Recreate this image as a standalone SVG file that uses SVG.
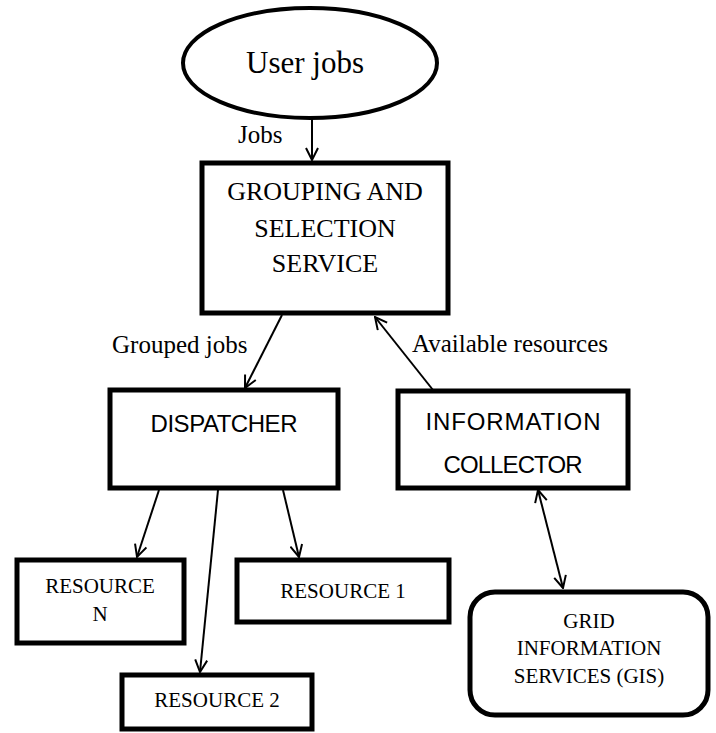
<svg xmlns="http://www.w3.org/2000/svg" width="716" height="733" viewBox="0 0 716 733">
<defs>
<style>
.box{fill:#fff;stroke:#000;stroke-width:5}
.ser{font-family:"Liberation Serif","Times New Roman",serif;fill:#000;text-anchor:middle}
.sans{font-family:"Liberation Sans",Arial,sans-serif;fill:#000;text-anchor:middle}
.lbl{font-family:"Liberation Serif","Times New Roman",serif;fill:#000;font-size:25px}
.conn{fill:none;stroke:#000;stroke-width:2}
</style>
<marker id="ah" viewBox="0 0 14 14" refX="13" refY="7" markerWidth="14" markerHeight="14" markerUnits="userSpaceOnUse" orient="auto-start-reverse">
<path d="M1,1 L13,7 L1,13" fill="none" stroke="#000" stroke-width="2"/>
</marker>
</defs>
<rect width="716" height="733" fill="#fff"/>
<g id="connectors">
<line class="conn" x1="312" y1="118" x2="312" y2="160" marker-end="url(#ah)"/>
<line class="conn" x1="282" y1="315" x2="245" y2="388" marker-end="url(#ah)"/>
<line class="conn" x1="433" y1="390" x2="375" y2="317" marker-end="url(#ah)"/>
<line class="conn" x1="538" y1="490" x2="563" y2="588" marker-start="url(#ah)" marker-end="url(#ah)"/>
<line class="conn" x1="159" y1="490" x2="137" y2="557" marker-end="url(#ah)"/>
<line class="conn" x1="218" y1="490" x2="200" y2="672" marker-end="url(#ah)"/>
<line class="conn" x1="283" y1="490" x2="299" y2="557" marker-end="url(#ah)"/>
<text class="lbl" x="238" y="143">Jobs</text>
<text class="lbl" x="112" y="353" font-size="26">Grouped jobs</text>
<text class="lbl" x="412" y="352" font-size="26">Available resources</text>
</g>
<g id="user-jobs">
<ellipse cx="310" cy="63" rx="127" ry="55" fill="#fff" stroke="#000" stroke-width="4"/>
<text class="ser" x="305" y="73" font-size="31">User jobs</text>
</g>
<g id="grouping">
<rect class="box" x="202" y="163" width="246" height="150"/>
<text class="ser" x="325" y="200" font-size="26">GROUPING AND</text>
<text class="ser" x="325" y="237" font-size="26">SELECTION</text>
<text class="ser" x="325" y="272" font-size="26">SERVICE</text>
</g>
<g id="dispatcher">
<rect class="box" x="110" y="390" width="228" height="98"/>
<text class="sans" x="224" y="432" font-size="24" textLength="147">DISPATCHER</text>
</g>
<g id="info-collector">
<rect class="box" x="398" y="391" width="230" height="97"/>
<text class="sans" x="513" y="430" font-size="24" textLength="175">INFORMATION</text>
<text class="sans" x="513" y="473" font-size="24" textLength="139">COLLECTOR</text>
</g>
<g id="resource-n">
<rect class="box" x="17" y="560" width="167" height="83"/>
<text class="ser" x="100" y="593" font-size="21">RESOURCE</text>
<text class="ser" x="100" y="621" font-size="21">N</text>
</g>
<g id="resource-1">
<rect class="box" x="237" y="560" width="212" height="62"/>
<text class="ser" x="343" y="598" font-size="21">RESOURCE 1</text>
</g>
<g id="resource-2">
<rect class="box" x="122" y="675" width="190" height="54"/>
<text class="ser" x="217" y="707" font-size="21">RESOURCE 2</text>
</g>
<g id="gis">
<rect class="box" x="470" y="592" width="238" height="123" rx="25"/>
<text class="ser" x="589" y="628" font-size="21">GRID</text>
<text class="ser" x="589" y="655" font-size="21">INFORMATION</text>
<text class="ser" x="589" y="683" font-size="21">SERVICES (GIS)</text>
</g>
</svg>
